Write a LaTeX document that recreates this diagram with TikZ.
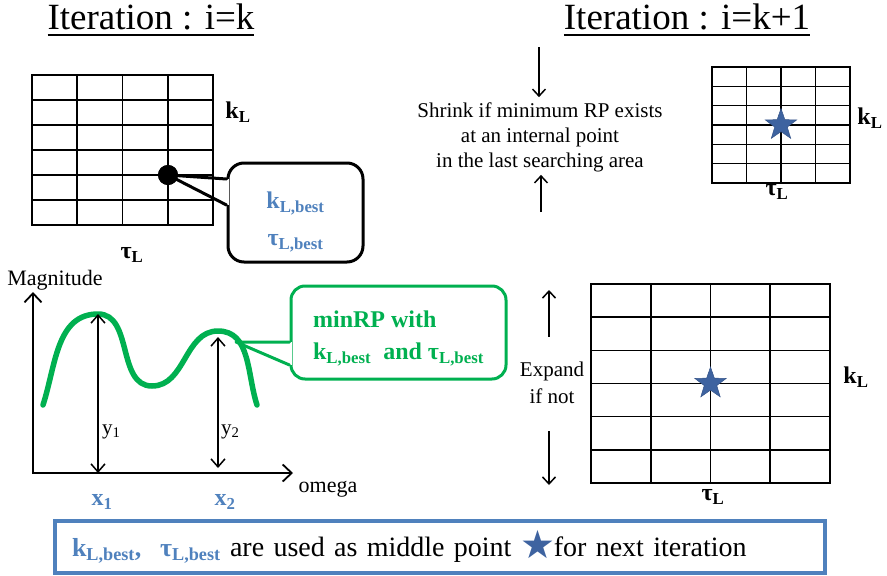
\documentclass[tikz,border=0pt]{standalone}
\usepackage{fontspec}
\setmainfont{Liberation Serif}
\newfontfamily\symbolfont{DejaVu Sans}
\usepackage{tikz}
\usetikzlibrary{shapes.geometric, arrows.meta, positioning, calc}
\definecolor{bestblue}{HTML}{4F81BD}
\definecolor{starblue}{HTML}{3E63A0}
\definecolor{rpgreen}{HTML}{00B050}
\newsavebox{\ttlbox}
\newcommand{\ttlunder}[1]{\sbox{\ttlbox}{#1}\rlap{\rule[-7pt]{\wd\ttlbox}{2pt}}\usebox{\ttlbox}}
\newcommand{\kLbest}{k\textsubscript{L,best}}
\newcommand{\tLbest}{τ\textsubscript{L,best}}
\newcommand{\kLsym}{k\textsubscript{L}}
\newcommand{\tLsym}{τ\textsubscript{L}}
\tikzset{
  iter title/.style={
    font=\fontsize{37}{40}\selectfont, inner sep=2pt, anchor=base
  },
  search grid/.style={
    rectangle, draw=black, line width=1.6pt, inner sep=0pt, outer sep=0pt
  },
  grid line/.style={
    line width=1.6pt, draw=black
  },
  grid name/.style={
    font=\fontsize{24}{26}\selectfont\bfseries, inner sep=1pt
  },
  mid star/.style={
    star, star points=5, star point ratio=2.5, fill=starblue,
    draw=starblue!85!black, line width=0.5pt, minimum size=33pt, inner sep=0pt
  },
  rule text/.style={
    font=\fontsize{21}{25}\selectfont, align=center, inner sep=3pt
  },
  rule arrow/.style={
    -{Straight Barb[length=7pt,width=13pt]}, line width=1.5pt
  },
  axis arrow/.style={
    {Straight Barb[length=9pt,width=17pt]}-{Straight Barb[length=9pt,width=17pt]},
    line width=1.8pt
  },
  height arrow/.style={
    {Straight Barb[length=8pt,width=14pt]}-{Straight Barb[length=8pt,width=14pt]},
    line width=1.5pt
  },
  axis name/.style={
    font=\fontsize{22}{24}\selectfont, inner sep=1pt
  },
  height name/.style={
    font=\fontsize{21}{24}\selectfont, inner sep=1pt, anchor=west
  },
  peak name/.style={
    font=\fontsize{24}{26}\selectfont\bfseries, text=bestblue, inner sep=1pt
  },
  spectrum/.style={
    draw=rpgreen, line width=5.5pt, line cap=round
  },
  best callout/.style={
    rectangle, rounded corners=16pt, draw=black, line width=3pt, fill=white,
    minimum width=135pt, minimum height=99pt, align=center, text=bestblue,
    text height=72pt, font=\fontsize{24}{37}\selectfont\bfseries
  },
  rp callout/.style={
    rectangle, rounded corners=14pt, draw=rpgreen, line width=3pt, fill=white,
    minimum width=215pt, minimum height=93pt, align=left, text=rpgreen,
    text height=61pt, font=\fontsize{24}{32}\selectfont\bfseries
  },
  best pointer/.style={
    draw=black, line width=3pt, line cap=round, line join=round
  },
  rp pointer/.style={
    draw=rpgreen, line width=3pt, line cap=round, line join=round
  },
  note box/.style={
    rectangle, draw=bestblue, line width=3.5pt, minimum height=52pt,
    text width=736pt, inner xsep=17pt, align=left,
    font=\fontsize{28}{30}\selectfont
  }
}

\begin{document}
\begin{tikzpicture}[x=1pt, y=1pt]
  \useasboundingbox (0,0) rectangle (887,-576);

  % titles
  \node[iter title] (title1) at (151,-29) {\ttlunder{Iteration : i=k}};
  \node[iter title] (title2) at (687,-29) {\ttlunder{Iteration : i=k+1}};

  % search areas
  \node[search grid, minimum width=181pt, minimum height=150pt] (g1) at (122.5,-150) {};
  \node[search grid, minimum width=138pt, minimum height=116pt] (g2) at (781,-125) {};
  \node[search grid, minimum width=239pt, minimum height=199pt] (g3) at (710.5,-383.5) {};
  \foreach \g in {g1,g2,g3}{
    \foreach \c in {1,2,3}
      \draw[grid line] ($(\g.north west)!{\c/4}!(\g.north east)$) -- ($(\g.south west)!{\c/4}!(\g.south east)$);
    \foreach \r in {1,...,5}
      \draw[grid line] ($(\g.north west)!{\r/6}!(\g.south west)$) -- ($(\g.north east)!{\r/6}!(\g.south east)$);
  }
  \node[grid name] (k1) at (238,-112) {\kLsym};
  \node[grid name] (t1) at (132,-255) {\tLsym};
  \node[grid name] (k2) at (870,-118) {\kLsym};
  \node[grid name] (t2) at (777,-192) {\tLsym};
  \node[grid name] (k3) at (856,-377) {\kLsym};
  \node[grid name] (t3) at (713,-497) {\tLsym};
  \node[mid star] (star2) at (g2.center) {};
  \node[mid star] (star3) at (g3.center) {};

  % best point callout
  \node[best callout] (bestbox) at (295.5,-212.5) {\kLbest\\\tLbest};
  \fill[white] ([shift={(-2.5pt,33.5pt)}]bestbox.west) rectangle ([shift={(2.5pt,7.5pt)}]bestbox.west);
  \node[circle, fill=black, minimum size=20pt, inner sep=0pt] (bestpt) at (168,-175) {};
  \draw[best pointer] ([yshift=33.5pt]bestbox.west) -- (bestpt.center) -- ([yshift=7.5pt]bestbox.west);
  \fill (bestpt.center) circle (10pt);

  % shrink / expand rules
  \node[rule text] (shrink) at (540,-137) {Shrink if minimum RP exists\\at an internal point\\in the last searching area};
  \coordinate (shrinkin) at (539,-47);
  \coordinate (shrinkout) at (541,-212);
  \draw[rule arrow, shorten >=2pt] (shrinkin) -- (shrinkin |- shrink.north);
  \draw[rule arrow] (shrinkout) -- (shrinkout |- shrink.south);

  \node[rule text, font=\fontsize{21}{27}\selectfont] (expand) at (552,-383) {Expand\\if not};
  \coordinate (expup) at (549,-290);
  \coordinate (expdown) at (549,-485);
  \draw[rule arrow, shorten <=22pt] (expup |- expand.north) -- (expup);
  \draw[rule arrow, shorten <=24pt] (expdown |- expand.south) -- (expdown);

  % magnitude plot
  \coordinate (origin) at (33,-473);
  \coordinate (ytip) at (33,-292);
  \coordinate (xtip) at (293,-473);
  \coordinate (cstart) at (43,-405);
  \coordinate (peak1) at (98,-314);
  \coordinate (valley) at (152,-386);
  \coordinate (peak2) at (218,-331);
  \coordinate (cend) at (257,-405);
  \coordinate (pk2tip) at (236,-342);
  \draw[axis arrow] (ytip) -- (origin) -- (xtip);
  \node[axis name] (maglbl) at (55,-280) {Magnitude};
  \node[axis name] (omglbl) at (328,-489) {omega};

  \node[rp callout] (rpbox) at (398.5,-332.5) {minRP with\\\kLbest{} \ and \tLbest};
  \fill[white] ([shift={(-2.5pt,-9.5pt)}]rpbox.west) rectangle ([shift={(2.5pt,-32.5pt)}]rpbox.west);
  \draw[rp pointer] ([yshift=-9.5pt]rpbox.west) -- (pk2tip) -- ([yshift=-32.5pt]rpbox.west);

  \draw[spectrum] (cstart) to[out=72,in=180] (peak1) to[out=0,in=180] (valley)
    to[out=0,in=180] (peak2) to[out=0,in=108] (cend);
  \coordinate (foot1) at (peak1 |- origin);
  \coordinate (foot2) at (218,-468);
  \coordinate (top2) at (218,-337);
  \draw[height arrow] (foot1) -- (peak1);
  \draw[height arrow] (foot2) -- (top2);
  \node[height name] (y1lbl) at (101,-432) {y\textsubscript{1}};
  \node[height name] (y2lbl) at (220,-432) {y\textsubscript{2}};
  \node[peak name] (x1lbl) at (102,-502) {x\textsubscript{1}};
  \node[peak name] (x2lbl) at (225,-502) {x\textsubscript{2}};

  % summary
  \node[note box] (note) at (440,-547) {{\color{bestblue}\bfseries\fontsize{26}{30}\selectfont\kLbest,\ \ \tLbest} are used as middle point {\color{starblue}\symbolfont\fontsize{39}{30}\selectfont\raisebox{-2pt}{★}}\kern-2pt for next iteration};
\end{tikzpicture}
\end{document}
